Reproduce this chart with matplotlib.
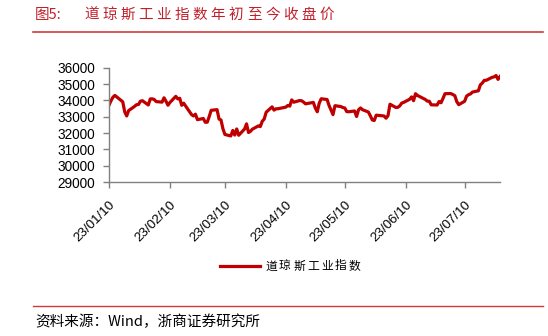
import pandas as pd
import matplotlib.pyplot as plt
import matplotlib.dates as mdates
from matplotlib.lines import Line2D

# Dow Jones Industrial Average closing prices, 2023-01-10 .. 2023-07-28
dates = [
    "2023-01-10", "2023-01-11", "2023-01-12", "2023-01-13", "2023-01-17", "2023-01-18", "2023-01-19",
    "2023-01-20", "2023-01-23", "2023-01-24", "2023-01-25", "2023-01-26", "2023-01-27", "2023-01-30",
    "2023-01-31", "2023-02-01", "2023-02-02", "2023-02-03", "2023-02-06", "2023-02-07", "2023-02-08",
    "2023-02-09", "2023-02-10", "2023-02-13", "2023-02-14", "2023-02-15", "2023-02-16", "2023-02-17",
    "2023-02-21", "2023-02-22", "2023-02-23", "2023-02-24", "2023-02-27", "2023-02-28", "2023-03-01",
    "2023-03-02", "2023-03-03", "2023-03-06", "2023-03-07", "2023-03-08", "2023-03-09", "2023-03-10",
    "2023-03-13", "2023-03-14", "2023-03-15", "2023-03-16", "2023-03-17", "2023-03-20", "2023-03-21",
    "2023-03-22", "2023-03-23", "2023-03-24", "2023-03-27", "2023-03-28", "2023-03-29", "2023-03-30",
    "2023-03-31", "2023-04-03", "2023-04-04", "2023-04-05", "2023-04-06", "2023-04-10", "2023-04-11",
    "2023-04-12", "2023-04-13", "2023-04-14", "2023-04-17", "2023-04-18", "2023-04-19", "2023-04-20",
    "2023-04-21", "2023-04-24", "2023-04-25", "2023-04-26", "2023-04-27", "2023-04-28", "2023-05-01",
    "2023-05-02", "2023-05-03", "2023-05-04", "2023-05-05", "2023-05-08", "2023-05-09", "2023-05-10",
    "2023-05-11", "2023-05-12", "2023-05-15", "2023-05-16", "2023-05-17", "2023-05-18", "2023-05-19",
    "2023-05-22", "2023-05-23", "2023-05-24", "2023-05-25", "2023-05-26", "2023-05-30", "2023-05-31",
    "2023-06-01", "2023-06-02", "2023-06-05", "2023-06-06", "2023-06-07", "2023-06-08", "2023-06-09",
    "2023-06-12", "2023-06-13", "2023-06-14", "2023-06-15", "2023-06-16", "2023-06-20", "2023-06-21",
    "2023-06-22", "2023-06-23", "2023-06-26", "2023-06-27", "2023-06-28", "2023-06-29", "2023-06-30",
    "2023-07-03", "2023-07-05", "2023-07-06", "2023-07-07", "2023-07-10", "2023-07-11", "2023-07-12",
    "2023-07-13", "2023-07-14", "2023-07-17", "2023-07-18", "2023-07-19", "2023-07-20", "2023-07-21",
    "2023-07-24", "2023-07-25", "2023-07-26", "2023-07-27", "2023-07-28",
]
dow_close = [
    33704, 33973, 34190, 34303, 33911, 33297, 33045,
    33375, 33630, 33734, 33744, 33949, 33978, 33717,
    34086, 34093, 34054, 33926, 33891, 34157, 33949,
    33700, 33869, 34246, 34089, 34128, 33697, 33827,
    33130, 33045, 33154, 32817, 32889, 32657, 32662,
    33004, 33391, 33431, 32856, 32798, 32255, 31910,
    31819, 32155, 31875, 32247, 31862, 32245, 32561,
    32030, 32105, 32238, 32432, 32394, 32718, 32859,
    33274, 33601, 33402, 33483, 33485, 33587, 33685,
    33647, 34030, 33886, 33987, 33977, 33897, 33787,
    33809, 33875, 33531, 33302, 33826, 34098, 34052,
    33685, 33414, 33128, 33674, 33619, 33562, 33531,
    33310, 33301, 33349, 33012, 33421, 33536, 33427,
    33287, 33056, 32800, 32765, 33093, 33043, 32908,
    33062, 33763, 33563, 33573, 33665, 33834, 33877,
    34066, 34212, 33979, 34408, 34299, 34054, 33952,
    33947, 33727, 33715, 33927, 33853, 34122, 34408,
    34418, 34289, 33922, 33735, 33944, 34261, 34347,
    34395, 34509, 34585, 34952, 35061, 35225, 35228,
    35411, 35438, 35520, 35283, 35459,
]
tick_dates = ["2023-01-10", "2023-02-10", "2023-03-10", "2023-04-10",
              "2023-05-10", "2023-06-10", "2023-07-10"]
y_ticks = [29000, 30000, 31000, 32000, 33000, 34000, 35000, 36000]

title_prefix = "图5:"
title_text = "道琼斯工业指数年初至今收盘价"
series_name = "道琼斯工业指数"
source_text = "资料来源：Wind，浙商证券研究所"

cjk = ["Noto Sans CJK SC", "DejaVu Sans"]
red = "#C00000"
rule_red = "#D23A3A"
axis_grey = "#808080"
W, H = 548, 336


def spaced_text(fig, x_px, y_px, text, step_px, **kw):
    # CJK text in the reference is drawn with extra letter spacing
    for i, ch in enumerate(text):
        fig.text((x_px + i * step_px) / W, 1 - y_px / H, ch, va="center", ha="left", **kw)


x = pd.to_datetime(dates)

fig = plt.figure(figsize=(W / 100, H / 100), dpi=100)
ax = fig.add_axes([109 / W, 1 - 182 / H, (500 - 109) / W, (182 - 67.7) / H])

ax.plot(x, dow_close, color=red, linewidth=2.3, solid_joinstyle="round")

ax.set_xlim(x[0], x[-1])
ax.set_ylim(29000, 36000)
ax.set_yticks(y_ticks)
ax.set_xticks(pd.to_datetime(tick_dates))
ax.xaxis.set_major_formatter(mdates.DateFormatter("%y/%m/%d"))

for side in ["top", "right"]:
    ax.spines[side].set_visible(False)
for side in ["left", "bottom"]:
    ax.spines[side].set_color(axis_grey)
    ax.spines[side].set_linewidth(1.0)
ax.tick_params(axis="both", colors=axis_grey, length=4.3, width=1.0, direction="out")
ax.tick_params(axis="y", pad=5.5)
ax.tick_params(axis="x", pad=8)
for lbl in ax.get_yticklabels():
    lbl.set_fontfamily("Liberation Sans")
    lbl.set_fontsize(9.8)
    lbl.set_color("black")
for lbl in ax.get_xticklabels():
    lbl.set_fontfamily("Liberation Sans")
    lbl.set_fontsize(9.6)
    lbl.set_color("black")
    lbl.set_rotation(45)
    lbl.set_ha("right")
    lbl.set_rotation_mode("anchor")

# title and rules
fig.text(35 / W, 1 - 15 / H, title_prefix, family=cjk, fontsize=10.5,
         color="#C0202A", va="center", ha="left")
spaced_text(fig, 84, 15, title_text, 18.1, family=cjk, fontsize=10.5, color="#C0202A")
fig.add_artist(Line2D([33 / W, 543 / W], [1 - 32 / H, 1 - 32 / H],
                      color=rule_red, linewidth=1.2))
fig.add_artist(Line2D([33 / W, 543 / W], [1 - 306 / H, 1 - 306 / H],
                      color=rule_red, linewidth=1.0))

# legend
fig.add_artist(Line2D([220 / W, 260 / W], [1 - 266 / H, 1 - 266 / H],
                      color=red, linewidth=2.3))
spaced_text(fig, 265, 266, series_name, 14.0, family=cjk, fontsize=8.5, color="black")

# source
fig.text(35 / W, 1 - 322 / H, source_text, family=cjk, fontsize=10.5,
         color="black", va="center", ha="left")

fig.savefig("out.png", dpi=100)
